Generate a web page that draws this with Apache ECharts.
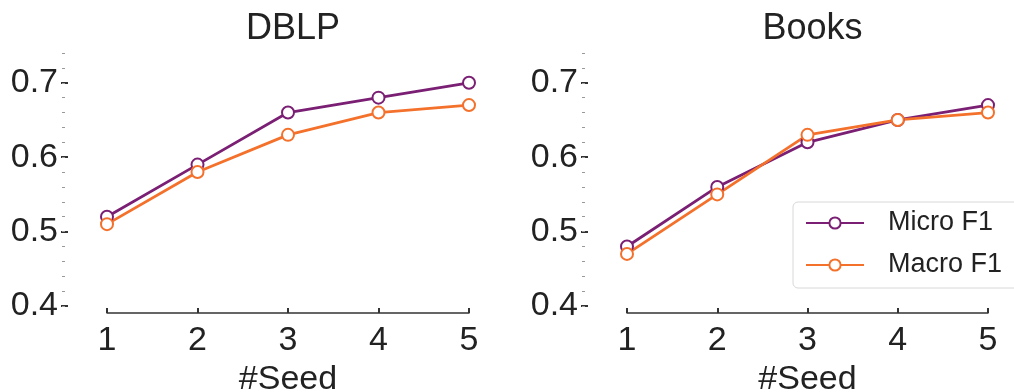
<!DOCTYPE html>
<html>
<head>
<meta charset="utf-8">
<script src="https://cdn.jsdelivr.net/npm/echarts@6/dist/echarts.min.js"></script>
<style>
  html, body { margin: 0; padding: 0; background: #fff; }
  #main { width: 1014px; height: 392px; }
</style>
</head>
<body>
<div id="main"></div>
<script>
// data
var seeds = [1, 2, 3, 4, 5];
var titles = ['DBLP', 'Books'];
var dblpMicro = [0.52, 0.59, 0.66, 0.68, 0.70];
var dblpMacro = [0.51, 0.58, 0.63, 0.66, 0.67];
var booksMicro = [0.48, 0.56, 0.62, 0.65, 0.67];
var booksMacro = [0.47, 0.55, 0.63, 0.65, 0.66];
var yTicks = [0.4, 0.5, 0.6, 0.7];

var colors = ['#7a1f73', '#f4712c'];
var font = 'Liberation Sans, Arial, sans-serif';
var txt = '#222';

var myChart = echarts.init(document.getElementById('main'));

function pairs(ys) {
    return seeds.map(function (s, i) { return [s, ys[i]]; });
}

var grids = [
    {left: 107, right: 545, top: 53, bottom: 86, outerBoundsMode: 'none'},
    {left: 627, right: 26, top: 53, bottom: 86, outerBoundsMode: 'none'}
];

var xAxes = [], yAxes = [], series = [], titleList = [];
var data = [[dblpMicro, dblpMacro], [booksMicro, booksMacro]];

grids.forEach(function (g, k) {
    titleList.push({
        text: titles[k],
        left: g.left + (1014 - g.left - g.right) / 2,
        textAlign: 'center',
        top: 6,
        textStyle: {fontFamily: font, fontSize: 36, fontWeight: 'normal', color: txt}
    });
    xAxes.push({
        gridIndex: k,
        type: 'value',
        min: 1, max: 5, interval: 1,
        offset: 7,
        name: '#Seed',
        nameLocation: 'middle',
        nameGap: 42,
        nameTextStyle: {fontFamily: font, fontSize: 34, color: txt},
        axisLine: {lineStyle: {color: '#333', width: 1.5}},
        axisTick: {inside: true, length: 5, lineStyle: {color: '#333', width: 2}},
        axisLabel: {fontFamily: font, fontSize: 34, color: txt, margin: 11},
        splitLine: {show: false}
    });
    // major ticks + labels
    yAxes.push({
        gridIndex: k,
        type: 'value',
        position: 'left',
        min: 0.4, max: 0.74, interval: 0.1,
        offset: 39,
        axisLine: {show: false},
        axisTick: {show: true, length: 7, customValues: yTicks, lineStyle: {color: '#333', width: 2}},
        axisLabel: {fontFamily: font, fontSize: 34, color: txt, margin: 10, customValues: yTicks,
            formatter: function (v) { return v.toFixed(1); }},
        splitLine: {show: false}
    });
    // minor ticks
    yAxes.push({
        gridIndex: k,
        type: 'value',
        position: 'left',
        min: 0.4, max: 0.74, interval: 0.02,
        offset: 42,
        axisLine: {show: false},
        axisTick: {show: true, length: 3, lineStyle: {color: '#999', width: 1}},
        axisLabel: {show: false},
        splitLine: {show: false}
    });
    ['Micro F1', 'Macro F1'].forEach(function (name, j) {
        series.push({
            name: name,
            type: 'line',
            xAxisIndex: k,
            yAxisIndex: k * 2,
            data: pairs(data[k][j]),
            symbol: 'emptyCircle',
            symbolSize: 12,
            color: colors[j],
            lineStyle: {width: 2.8, color: colors[j]},
            itemStyle: {color: colors[j], borderWidth: 1.5},
            emphasis: {disabled: true},
            animation: false
        });
    });
});

var option = {
    backgroundColor: '#fff',
    title: titleList,
    grid: grids,
    xAxis: xAxes,
    yAxis: yAxes,
    legend: {
        data: ['Micro F1', 'Macro F1'],
        orient: 'vertical',
        left: 793,
        top: 202,
        padding: [6, 40, 8, 12],
        itemWidth: 58,
        itemHeight: 14,
        itemGap: 12,
        borderColor: '#d8d8d8',
        borderWidth: 1,
        borderRadius: 5,
        textStyle: {fontFamily: font, fontSize: 27, color: txt, lineHeight: 30, padding: [0, 0, 0, 19]}
    },
    series: series
};
myChart.setOption(option);
</script>
</body>
</html>
